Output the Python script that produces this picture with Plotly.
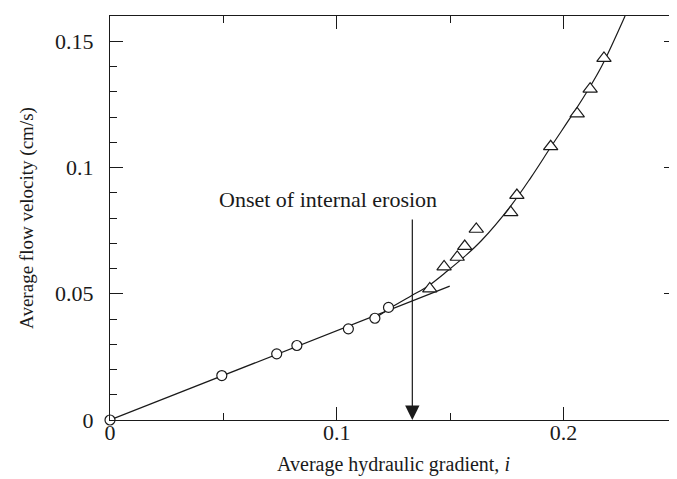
import plotly.graph_objects as go

# Data
circle_x = [0.0, 0.0493, 0.0735, 0.0824, 0.1051, 0.1168, 0.1228]
circle_y = [0.0, 0.0176, 0.0262, 0.0295, 0.0361, 0.0403, 0.0446]

tri_x = [0.1410, 0.1473, 0.1531, 0.1564, 0.1615, 0.1767, 0.1794, 0.1943, 0.2060, 0.2117, 0.2178]
tri_y = [0.0520, 0.0607, 0.0645, 0.0688, 0.0756, 0.0822, 0.0890, 0.1083, 0.1213, 0.1311, 0.1433]

line_x = [0.0, 0.1498]
line_y = [0.0, 0.0530]

curve_x = [0.1168, 0.1241, 0.1329, 0.1402, 0.1490, 0.1564, 0.1637, 0.1769, 0.1857, 0.1945, 0.2048, 0.2107, 0.2169, 0.2271]
curve_y = [0.0403, 0.0446, 0.0492, 0.0530, 0.0592, 0.0648, 0.0710, 0.0850, 0.0962, 0.1083, 0.1222, 0.1306, 0.1403, 0.1600]

onset_x = 0.1333
arrow_top = 0.080
label_x = 0.0963
label_y = 0.0872

x_ticks = [0, 0.1, 0.2]
x_ticktext = ["0", "0.1", "0.2"]
y_ticks = [0, 0.05, 0.1, 0.15]
y_ticktext = ["0", "0.05", "0.1", "0.15"]

FONT = "Liberation Serif, Times New Roman, serif"
INK = "#1a1a1a"
FS = 22

fig = go.Figure()
fig.add_trace(go.Scatter(x=line_x, y=line_y, mode="lines",
                         line=dict(color=INK, width=1.2), showlegend=False))
fig.add_trace(go.Scatter(x=curve_x, y=curve_y, mode="lines",
                         line=dict(color=INK, width=1.2, shape="spline", smoothing=1.0),
                         showlegend=False))
fig.add_trace(go.Scatter(x=circle_x, y=circle_y, mode="markers",
                         marker=dict(symbol="circle", size=10, color="white",
                                     line=dict(color=INK, width=1.2)),
                         showlegend=False, cliponaxis=False))
fig.add_trace(go.Scatter(x=tri_x, y=tri_y, mode="markers",
                         marker=dict(symbol="triangle-up", size=12.5, color="white",
                                     line=dict(color=INK, width=1.2)),
                         showlegend=False, cliponaxis=False))

fig.add_annotation(x=onset_x, y=0, ax=onset_x, ay=arrow_top, xref="x", yref="y",
                   axref="x", ayref="y", text="", showarrow=True,
                   arrowhead=2, arrowsize=2.4, arrowwidth=1.2, arrowcolor=INK,
                   standoff=0, startstandoff=0)
fig.add_annotation(x=label_x, y=label_y, xref="x", yref="y",
                   text="Onset of internal erosion", showarrow=False,
                   font=dict(family=FONT, size=FS, color=INK))

axis_common = dict(showline=True, linecolor=INK, linewidth=1.3, mirror="ticks",
                   ticks="inside", ticklen=13, tickwidth=1.3, tickcolor=INK,
                   showgrid=False, zeroline=False,
                   tickfont=dict(family=FONT, size=FS, color=INK))

fig.update_xaxes(range=[0, 0.25], tickvals=x_ticks, ticktext=x_ticktext,
                 minor=dict(dtick=0.05, ticks="inside", ticklen=7, tickwidth=1.3, tickcolor=INK),
                 title=dict(text="Average hydraulic gradient, <i>i</i>",
                            font=dict(family=FONT, size=20, color=INK), standoff=13),
                 ticklabelstandoff=-8,
                 **axis_common)
fig.update_yaxes(range=[0, 0.16], tickvals=y_ticks, ticktext=y_ticktext,
                 minor=dict(dtick=0.01, ticks="inside", ticklen=7, tickwidth=1.3, tickcolor=INK),
                 title=dict(text="Average flow velocity (cm/s)",
                            font=dict(family=FONT, size=19, color=INK), standoff=16),
                 ticklabelstandoff=11,
                 **axis_common)

fig.update_layout(width=677, height=479,
                  margin=dict(l=102, r=8, t=8, b=67, autoexpand=False),
                  paper_bgcolor="white", plot_bgcolor="white",
                  font=dict(family=FONT, color=INK))

fig.write_html("out.html")
